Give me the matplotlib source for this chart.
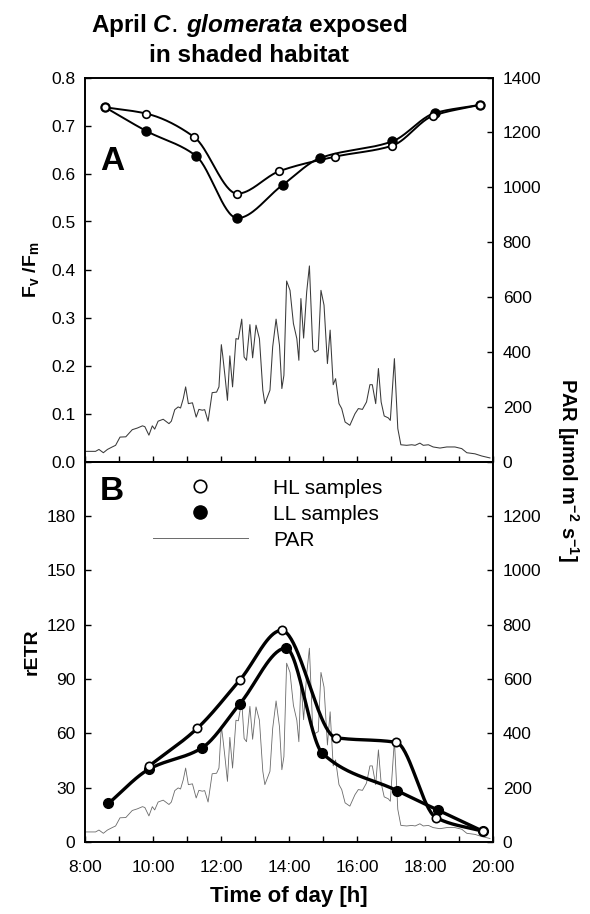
import numpy as np
import matplotlib
matplotlib.use('Agg')
import matplotlib.pyplot as plt
from matplotlib.lines import Line2D
from matplotlib.ticker import MultipleLocator, FuncFormatter

plt.rcParams['font.family'] = ['Liberation Sans', 'DejaVu Sans']
plt.rcParams['mathtext.fontset'] = 'custom'
plt.rcParams['mathtext.it'] = 'Liberation Sans:italic:bold'
plt.rcParams['mathtext.default'] = 'regular'

# panel A: Fv/Fm, sampling times in hours
hl_time_a = [8.59, 9.79, 11.21, 12.48, 13.72, 15.35, 17.04, 18.23, 19.62]
hl_fvfm = [0.738, 0.725, 0.676, 0.558, 0.605, 0.635, 0.658, 0.720, 0.743]
ll_time_a = [8.59, 9.79, 11.26, 12.48, 13.81, 14.91, 17.04, 18.29, 19.62]
ll_fvfm = [0.738, 0.689, 0.637, 0.507, 0.576, 0.632, 0.667, 0.726, 0.743]

# panel B: rETR
hl_time_b = [9.89, 11.30, 12.56, 13.78, 15.38, 17.15, 18.32, 19.72]
hl_retr = [42, 62.7, 89.5, 116.8, 57.6, 55, 13.5, 5.8]
ll_time_b = [8.69, 9.89, 11.43, 12.56, 13.91, 14.98, 17.17, 18.39, 19.72]
ll_retr = [21.3, 40.3, 51.8, 76.4, 107, 49, 28.4, 17.5, 5.8]

# PAR record (umol m-2 s-1)
par_time = [8.0, 8.31, 8.41, 8.54, 8.66, 8.80, 8.90, 9.03, 9.20, 9.39, 9.54, 9.69,
            9.76, 9.88, 9.98, 10.05, 10.15, 10.30, 10.47, 10.54, 10.64, 10.74, 10.81,
            10.89, 10.96, 11.04, 11.16, 11.27, 11.35, 11.45, 11.52, 11.62, 11.74,
            11.87, 11.94, 12.01, 12.05, 12.12, 12.19, 12.26, 12.34, 12.44, 12.51,
            12.61, 12.68, 12.75, 12.85, 12.93, 13.03, 13.13, 13.23, 13.29, 13.44,
            13.52, 13.62, 13.72, 13.79, 13.85, 13.93, 14.03, 14.13, 14.23, 14.29,
            14.35, 14.43, 14.52, 14.60, 14.70, 14.76, 14.86, 14.94, 15.03, 15.13,
            15.21, 15.30, 15.37, 15.47, 15.55, 15.65, 15.79, 15.94, 16.04, 16.16,
            16.28, 16.38, 16.45, 16.55, 16.63, 16.71, 16.80, 16.92, 16.98, 17.10,
            17.20, 17.29, 17.46, 17.61, 17.71, 17.85, 17.95, 18.10, 18.24, 18.44,
            18.64, 18.88, 19.08, 19.23, 19.47, 19.67, 19.91]
par = [37, 37, 44, 32, 44, 53, 59, 89, 90, 116, 122, 130,
       127, 96, 130, 118, 147, 154, 138, 147, 189, 199, 195,
       229, 272, 211, 214, 162, 190, 187, 189, 147, 251,
       253, 272, 426, 387, 308, 223, 385, 272, 448, 446,
       519, 381, 369, 499, 378, 497, 448, 260, 211, 260,
       418, 519, 424, 266, 314, 658, 624, 503, 448, 369,
       594, 450, 618, 713, 409, 399, 406, 624, 570, 357,
       479, 280, 302, 211, 193, 144, 132, 174, 193, 190,
       217, 280, 280, 211, 339, 217, 166, 159, 150, 375,
       120, 61, 59, 61, 59, 67, 59, 61, 53, 49,
       53, 53, 47, 32, 28, 20, 13]

hour_labels = {8: '8:00', 10: '10:00', 12: '12:00', 14: '14:00', 16: '16:00', 18: '18:00', 20: '20:00'}


def smooth(x, y, n=300):
    # monotone cubic (Fritsch-Carlson) curve through the sample points
    x = np.asarray(x, float)
    y = np.asarray(y, float)
    h = np.diff(x)
    delta = np.diff(y) / h
    m = len(x)
    d = np.zeros(m)
    for k in range(1, m - 1):
        if delta[k - 1] * delta[k] > 0:
            w1 = 2 * h[k] + h[k - 1]
            w2 = h[k] + 2 * h[k - 1]
            d[k] = (w1 + w2) / (w1 / delta[k - 1] + w2 / delta[k])
    d[0] = delta[0]
    d[-1] = delta[-1]
    xs = np.linspace(x[0], x[-1], n)
    idx = np.clip(np.searchsorted(x, xs) - 1, 0, m - 2)
    t = (xs - x[idx]) / h[idx]
    h00 = 2 * t ** 3 - 3 * t ** 2 + 1
    h10 = t ** 3 - 2 * t ** 2 + t
    h01 = -2 * t ** 3 + 3 * t ** 2
    h11 = t ** 3 - t ** 2
    ys = h00 * y[idx] + h10 * h[idx] * d[idx] + h01 * y[idx + 1] + h11 * h[idx] * d[idx + 1]
    return xs, ys


def style(ax, labelsize=12.5):
    ax.tick_params(direction='in', length=4.5, width=1, labelsize=labelsize, pad=7)
    for s in ax.spines.values():
        s.set_linewidth(1.2)


fig = plt.figure(figsize=(5.9, 9.14), dpi=100)
L, W = 85 / 590, 408 / 590
axA = fig.add_axes([L, 1 - 461.5 / 914, W, 384 / 914])
axB = fig.add_axes([L, 1 - 842 / 914, W, 380.5 / 914])
parA = axA.twinx()
parB = axB.twinx()

for ax, pax in [(axA, parA), (axB, parB)]:
    ax.set_zorder(pax.get_zorder() + 1)
    ax.patch.set_visible(False)
    ax.set_xlim(8, 20)
    ax.xaxis.set_major_locator(MultipleLocator(1))
    pax.set_ylim(0, 1400)
    style(ax)
    style(pax)

# panel A
parA.plot(par_time, par, color='#3a3a3a', lw=0.75)
parA.yaxis.set_major_locator(MultipleLocator(200))
axA.plot(*smooth(hl_time_a, hl_fvfm), color='black', lw=1.4)
axA.plot(*smooth(ll_time_a, ll_fvfm), color='black', lw=1.4)
axA.plot(ll_time_a, ll_fvfm, 'o', color='black', ms=6.5)
axA.plot(hl_time_a, hl_fvfm, 'o', mfc='white', mec='black', mew=1.2, ms=5.5)
axA.set_ylim(0, 0.8)
axA.yaxis.set_major_locator(MultipleLocator(0.1))
axA.yaxis.set_major_formatter(FuncFormatter(lambda v, p: '%.1f' % v))
axA.tick_params(axis='x', labelbottom=False)
axA.set_ylabel('F$_v$ /F$_m$', fontsize=14, fontweight='bold', labelpad=7)
axA.text(0.036, 0.76, 'A', transform=axA.transAxes, fontsize=24, fontweight='bold')

# panel B
parB.plot(par_time, par, color='#6a6a6a', lw=0.6)
parB.set_yticks(np.arange(0, 1201, 200))
axB.plot(*smooth(hl_time_b, hl_retr), color='black', lw=2.4)
axB.plot(*smooth(ll_time_b, ll_retr), color='black', lw=2.4)
axB.plot(ll_time_b, ll_retr, 'o', color='black', ms=7)
axB.plot(hl_time_b, hl_retr, 'o', mfc='white', mec='black', mew=1.2, ms=6)
axB.set_ylim(0, 210)
axB.set_yticks(np.arange(0, 181, 30))
axB.xaxis.set_major_formatter(FuncFormatter(lambda v, p: hour_labels.get(int(round(v)), '')))
axB.tick_params(axis='x', pad=13)
axB.set_xlabel('Time of day [h]', fontsize=16, fontweight='bold', labelpad=8)
axB.set_ylabel('rETR', fontsize=14, fontweight='bold', labelpad=4)
axB.text(0.036, 0.898, 'B', transform=axB.transAxes, fontsize=24, fontweight='bold')

handles = [Line2D([], [], ls='none', marker='o', mfc='white', mec='black', mew=1.2, ms=9),
           Line2D([], [], ls='none', marker='o', color='black', ms=9.5),
           Line2D([], [], color='#6a6a6a', lw=0.7)]
axB.legend(handles, ['HL samples', 'LL samples', 'PAR'], loc='upper left',
           bbox_to_anchor=(0.14, 0.982), frameon=False, fontsize=15,
           handlelength=4.6, handletextpad=1.2, labelspacing=0.33, borderpad=0)

fig.text(0.422, 1 - 32 / 914, 'April $\\it{C.\\,glomerata}$ exposed', ha='center',
         va='baseline', fontsize=17.5, fontweight='bold')
fig.text(0.422, 1 - 62 / 914, 'in shaded habitat', ha='center', va='baseline',
         fontsize=17.5, fontweight='bold')
fig.text(568 / 590, 1 - 470 / 914, 'PAR [µmol m$^{-2}$ s$^{-1}$]', rotation=-90,
         ha='center', va='center', fontsize=14.5, fontweight='bold')

fig.savefig('out.png', dpi=100)
